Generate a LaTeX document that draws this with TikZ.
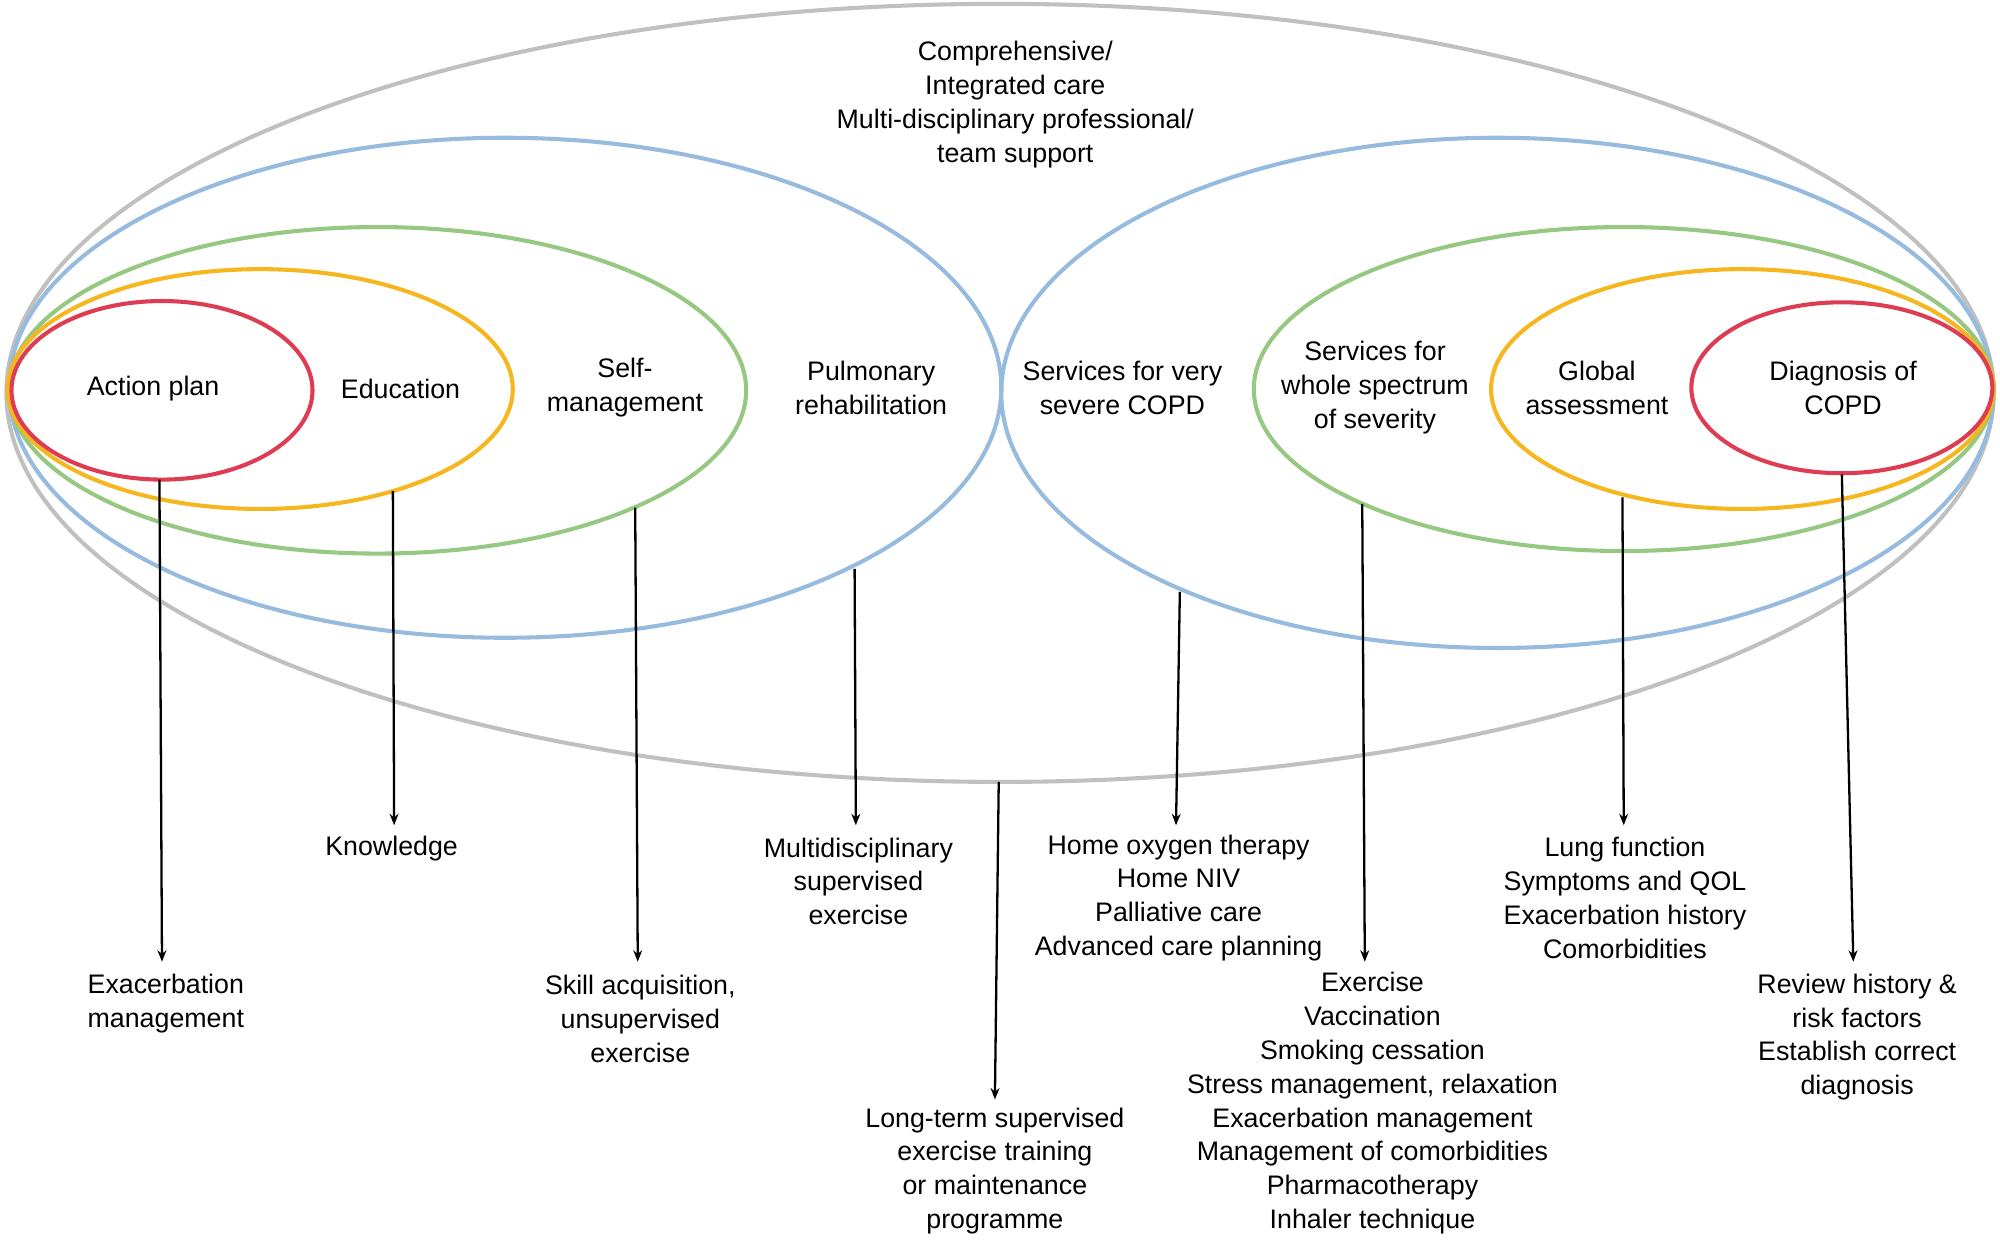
\documentclass[tikz,border=0pt]{standalone}
\usepackage{fontspec}
\setmainfont{Liberation Sans}
\usetikzlibrary{arrows.meta}
\definecolor{cg}{RGB}{192,192,192}
\definecolor{cb}{RGB}{150,187,222}
\definecolor{cgr}{RGB}{150,200,130}
\definecolor{co}{RGB}{245,182,30}
\definecolor{cr}{RGB}{222,60,82}
\begin{document}
\begin{tikzpicture}[x=1pt,y=-1pt,
  ring/.style={line width=3.2pt},
  lbl/.style={font=\fontsize{21}{26.5}\selectfont,align=center,inner sep=0pt},
  arr/.style={line width=1.8pt,-{Stealth[length=9pt,width=7pt]}}]
\useasboundingbox (0,0) rectangle (1568,972);
\draw[ring,cg] (784,308) ellipse [x radius=779,y radius=305];
\draw[ring,cb] (396,304) ellipse [x radius=389,y radius=196];
\draw[ring,cgr] (296,306) ellipse [x radius=289,y radius=128];
\draw[ring,co] (204,305) ellipse [x radius=198,y radius=94];
\draw[ring,cr] (127,306) ellipse [x radius=118,y radius=70];
\draw[ring,cb] (1174,308) ellipse [x radius=389,y radius=200];
\draw[ring,cgr] (1273,305) ellipse [x radius=290,y radius=127];
\draw[ring,co] (1366,305) ellipse [x radius=197,y radius=94];
\draw[ring,cr] (1444,304) ellipse [x radius=118,y radius=67];

\node[lbl] (top) at (796,82) {Comprehensive/\\Integrated care\\Multi-disciplinary professional/\\team support};
\node[lbl] (ap) at (120,305) {Action plan};
\node[lbl] (ed) at (314,305) {Education};
\node[lbl] (sm) at (490,304) {Self-\\management};
\node[lbl] (pr) at (683,304) {Pulmonary\\rehabilitation};
\node[lbl] (sv) at (880,304) {Services for very\\severe COPD};
\node[lbl] (sw) at (1078,304) {Services for\\whole spectrum\\of severity};
\node[lbl] (ga) at (1252,304) {Global\\assessment};
\node[lbl] (dx) at (1445,304) {Diagnosis of\\COPD};

\node[lbl] (b1) at (130,787) {Exacerbation\\management};
\node[lbl] (b2) at (307,665) {Knowledge};
\node[lbl] (b3) at (502,799) {Skill acquisition,\\unsupervised\\exercise};
\node[lbl] (b4) at (673,691) {Multidisciplinary\\supervised\\exercise};
\node[lbl] (b5) at (780,918) {Long-term supervised\\exercise training\\or maintenance\\programme};
\node[lbl] (b6) at (924,704) {Home oxygen therapy\\Home NIV\\Palliative care\\Advanced care planning};
\node[lbl] (b7) at (1076,865) {Exercise\\Vaccination\\Smoking cessation\\Stress management, relaxation\\Exacerbation management\\Management of comorbidities\\Pharmacotherapy\\Inhaler technique};
\node[lbl] (b8) at (1274,704) {Lung function\\Symptoms and QOL\\Exacerbation history\\Comorbidities};
\node[lbl] (b9) at (1456,813) {Review history \&\\risk factors\\Establish correct\\diagnosis};

\coordinate (s1) at (125,376); \coordinate (e1) at (127,754);
\coordinate (s2) at (308,385); \coordinate (e2) at (309,647);
\coordinate (s3) at (498,398); \coordinate (e3) at (500,754);
\coordinate (s4) at (670,446); \coordinate (e4) at (671,647);
\coordinate (s5) at (783,613); \coordinate (e5) at (780,862);
\coordinate (s6) at (925,464); \coordinate (e6) at (922,647);
\coordinate (s7) at (1068,395); \coordinate (e7) at (1070,754);
\coordinate (s8) at (1272,390); \coordinate (e8) at (1273,647);
\coordinate (s9) at (1444,372); \coordinate (e9) at (1453,754);
\foreach \i in {1,...,9} \draw[arr] (s\i) -- (e\i);
\end{tikzpicture}
\end{document}
